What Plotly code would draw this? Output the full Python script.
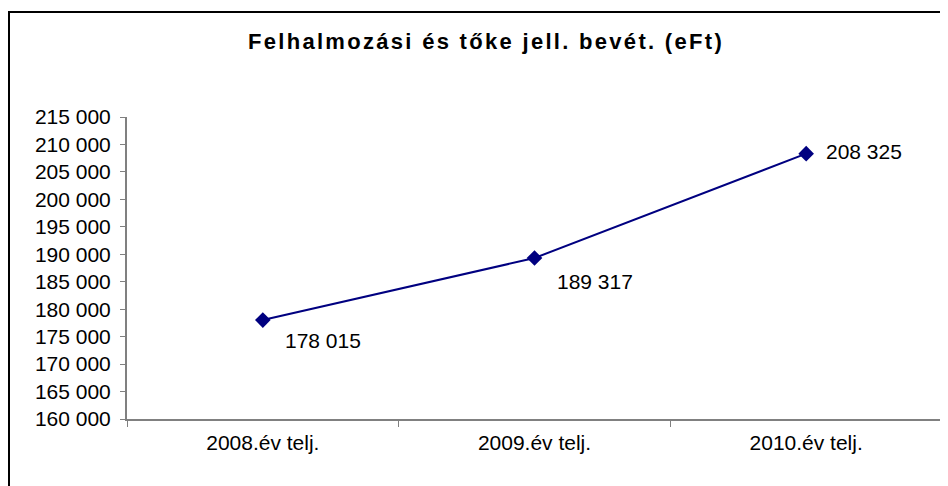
import plotly.graph_objects as go

categories = ["2008.év telj.", "2009.év telj.", "2010.év telj."]
values = [178015, 189317, 208325]
value_labels = ["178 015", "189 317", "208 325"]
tick_vals = list(range(160000, 215001, 5000))
tick_text = [f"{v // 1000} 000" for v in tick_vals]
title_text = "Felhalmozási és tőke jell. bevét. (eFt)"

FONT = "Liberation Sans, Arial, sans-serif"
# page body has an 8px margin, so the figure is placed at (8, 8)
W, H = 940, 478
L, R, T, B = 119, 6, 109, 67

fig = go.Figure()
fig.add_trace(go.Scatter(
    x=categories, y=values, mode="lines+markers",
    line=dict(color="#000080", width=2),
    marker=dict(symbol="diamond", size=12, color="#000080"),
    showlegend=False, hoverinfo="skip",
))

# data labels
offsets = [(20, -20), (20, -23), (18, 2)]
for c, v, t, (dx, dy) in zip(categories, values, value_labels, offsets):
    fig.add_annotation(x=c, y=v, text=t, showarrow=False,
                       xanchor="left", yanchor="middle",
                       xshift=dx, yshift=dy,
                       font=dict(family=FONT, size=21, color="black"))

pw = W - L - R
ph = H - T - B
fig.add_shape(type="rect", xref="paper", yref="paper",
              x0=(1 - L) / pw, x1=1.5, y0=-1.0, y1=(H - B - 4) / ph,
              line=dict(color="black", width=2), fillcolor="rgba(0,0,0,0)",
              layer="above")

fig.update_layout(
    width=W, height=H,
    margin=dict(l=L, r=R, t=T, b=B),
    paper_bgcolor="white", plot_bgcolor="white",
    title=dict(text='<span style="letter-spacing:2.3px">' + title_text + "</span>",
               x=478 / W, xanchor="center",
               y=1 - 33 / H, yanchor="middle",
               font=dict(family=FONT, size=22, color="black", weight="bold")),
    font=dict(family=FONT, size=21, color="black"),
)
fig.update_xaxes(
    type="category", range=[-0.5, 2.5],
    showline=True, linecolor="#808080", linewidth=2,
    ticks="outside", tickson="boundaries", ticklen=6, tickcolor="#808080", tickwidth=1,
    ticklabelstandoff=4,
    showgrid=False, zeroline=False,
    tickfont=dict(family=FONT, size=21, color="black"),
)
fig.update_yaxes(
    range=[160000, 215000], tickvals=tick_vals, ticktext=tick_text,
    showline=True, linecolor="#808080", linewidth=2,
    ticks="outside", ticklen=5, tickcolor="#808080", tickwidth=1,
    ticklabelstandoff=5,
    showgrid=False, zeroline=False,
    tickfont=dict(family=FONT, size=21, color="black"),
)

fig.write_html("out.html")
